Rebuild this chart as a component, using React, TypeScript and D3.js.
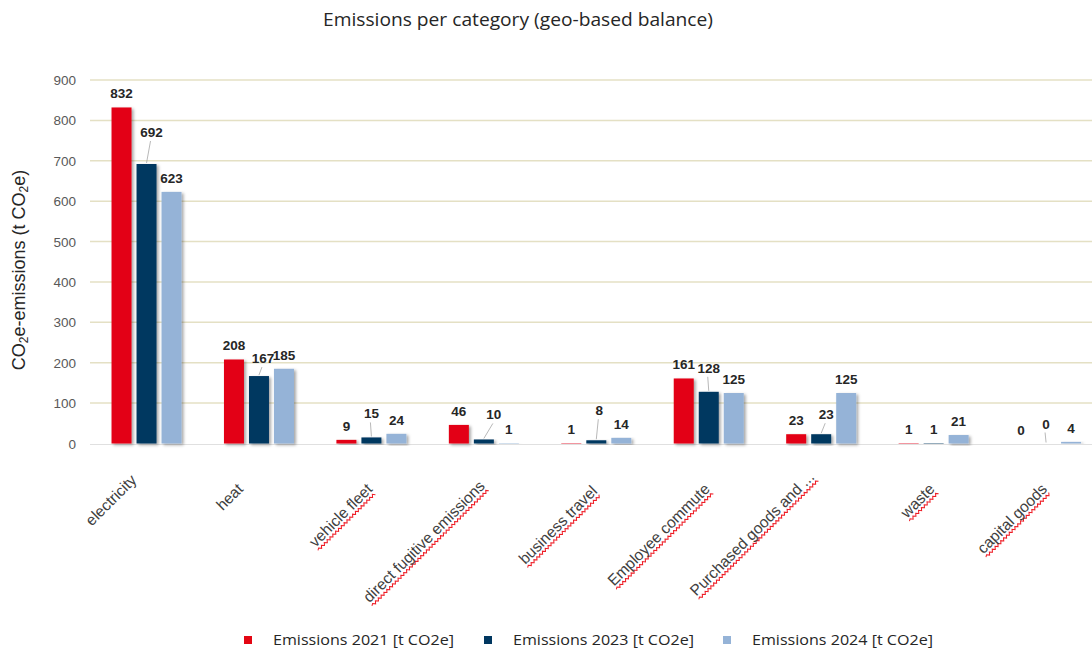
import React from "react";
import * as d3 from "d3";

const categories = [
  "electricity",
  "heat",
  "vehicle fleet",
  "direct fugitive emissions",
  "business travel",
  "Employee commute",
  "Purchased goods and ...",
  "waste",
  "capital goods",
];
const seriesNames = [
  "Emissions 2021 [t CO2e]",
  "Emissions 2023 [t CO2e]",
  "Emissions 2024 [t CO2e]",
];
const emissions2021 = [832, 208, 9, 46, 1, 161, 23, 1, 0];
const emissions2023 = [692, 167, 15, 10, 8, 128, 23, 1, 0];
const emissions2024 = [623, 185, 24, 1, 14, 125, 125, 21, 4];
const yTicks = [0, 100, 200, 300, 400, 500, 600, 700, 800, 900];
const spellFlag = [false, false, true, true, true, true, true, true, true];

const COLORS = ["#e30613", "#003760", "#95b3d7"];

// manual label nudges for the 2023 series (px lift above bar top, px dx)
const navyLift = [32, 18, 24, 25, 30, 24, 20, 14, 20];
const navyDx = [5, 4, 0, 10, 3, 0, 5, 0, 0];
// manual nudges of the category labels (px)
const catDx = [-11, -17, 0, 0, 0, 0, -8, 0, 0];
const catDy = [-9, 0, 0, -3, 2, 0, -12, 0, 0];

const labelFont = "'Liberation Sans', Arial, sans-serif";
const XL_SIZE = 15.5;

function measure(text: string, font: string): number {
  const cv = document.createElement("canvas");
  const ctx = cv.getContext("2d");
  if (!ctx) return text.length * 7;
  ctx.font = font;
  return ctx.measureText(text).width;
}

function wavy(x0: number, x1: number, yy: number): string {
  let d = `M${x0},${yy}`;
  const step = 2;
  let up = true;
  for (let xx = x0 + step; xx <= x1; xx += step) {
    d += ` L${xx},${yy + (up ? -1.2 : 1.2)}`;
    up = !up;
  }
  return d;
}

export default function App() {
  const W = 1092;
  const H = 652;
  const y = d3.scaleLinear().domain([0, 900]).range([443.5, 80]);
  const x = d3.scaleBand<string>().domain(categories).range([90.3, 1102.3]).paddingInner(0).paddingOuter(0);
  const series = [emissions2021, emissions2023, emissions2024];
  const barW = 20;
  const barOff = [-35, -10, 15];
  const center = (c: string) => (x(c) as number) + x.bandwidth() / 2;

  return (
    <svg width={W} height={H} style={{ position: "absolute", left: 0, top: 0, background: "#fff" }}>
      <defs>
        <filter id="sh" x="-30%" y="-10%" width="160%" height="130%">
          <feDropShadow dx="2" dy="1.5" stdDeviation="1.6" floodColor="#000" floodOpacity="0.35" />
        </filter>
      </defs>
      <rect width={W} height={H} fill="#fff" />
      <text x={518} y={26} textAnchor="middle" fontFamily="'Open Sans', sans-serif" fontSize={18} textLength={390} lengthAdjust="spacingAndGlyphs" fill="#262626">
        Emissions per category (geo-based balance)
      </text>

      {/* grid */}
      {yTicks.map((t) => (
        <g key={t}>
          {t > 0 && (
            <line x1={90} x2={W} y1={y(t)} y2={y(t)} stroke="#e4e0c4" strokeWidth={1.5} />
          )}
          <text x={76} y={y(t) + 5} textAnchor="end" fontFamily={labelFont} fontSize={13.5} fill="#595959">
            {t}
          </text>
        </g>
      ))}
      <line x1={90} x2={W} y1={y(0) + 1} y2={y(0) + 1} stroke="#e0e0e0" strokeWidth={1} />

      {/* y title */}
      <text
        transform={`translate(25, 270) rotate(-90)`}
        textAnchor="middle"
        fontFamily={labelFont}
        fontSize={18}
        fill="#262626"
      >
        CO<tspan fontSize={12} dy={3}>2</tspan>
        <tspan dy={-3}>e-emissions  (t CO</tspan>
        <tspan fontSize={12} dy={3}>2</tspan>
        <tspan dy={-3}>e)</tspan>
      </text>

      {/* bars */}
      {series.map((vals, s) =>
        vals.map((v, i) => {
          const c = categories[i];
          const bx = center(c) + barOff[s];
          const top = y(v);
          return (
            <rect
              key={`b${s}-${i}`}
              x={bx}
              y={top}
              width={barW}
              height={Math.max(0, y(0) - top)}
              fill={COLORS[s]}
              filter={v > 0 ? "url(#sh)" : undefined}
            />
          );
        })
      )}

      {/* labels */}
      {series.map((vals, s) =>
        vals.map((v, i) => {
          const c = categories[i];
          const bc = center(c) + barOff[s] + barW / 2;
          const top = y(v);
          const lift = s === 1 ? navyLift[i] : 14;
          const dx = s === 1 ? navyDx[i] : 0;
          const ly = top - lift;
          const lx = bc + dx;
          return (
            <g key={`l${s}-${i}`}>
              {s === 1 && lift > 16 && (
                <line x1={lx - 1} y1={ly + 9} x2={bc} y2={top - 1} stroke="#a6a6a6" strokeWidth={0.8} />
              )}
              <text
                x={lx}
                y={ly + 5}
                textAnchor="middle"
                fontFamily={labelFont}
                fontWeight="bold"
                fontSize={13.5}
                fill="#262626"
              >
                {v}
              </text>
            </g>
          );
        })
      )}

      {/* x labels */}
      {categories.map((c, i) => {
        const len = measure(c, `${XL_SIZE}px 'Liberation Sans', Arial, sans-serif`);
        return (
          <g key={c} transform={`translate(${center(c) + 2 + catDx[i]}, ${490 + catDy[i]}) rotate(-45)`}>
            {spellFlag[i] && (
              <path d={wavy(-len, 0, 3.5)} fill="none" stroke="#ee1c25" strokeWidth={1} />
            )}
            <text textAnchor="end" fontFamily={labelFont} fontSize={XL_SIZE} fill="#404040">
              {c}
            </text>
          </g>
        );
      })}

      {/* legend */}
      {seriesNames.map((n, s) => {
        const lx = [244, 484, 723][s];
        return (
          <g key={n}>
            <rect x={lx} y={636} width={8} height={8} fill={COLORS[s]} />
            <text x={lx + 29} y={645} fontFamily="'Open Sans', sans-serif" fontSize={14.5} textLength={181} lengthAdjust="spacingAndGlyphs" fill="#262626">
              {n}
            </text>
          </g>
        );
      })}
    </svg>
  );
}
